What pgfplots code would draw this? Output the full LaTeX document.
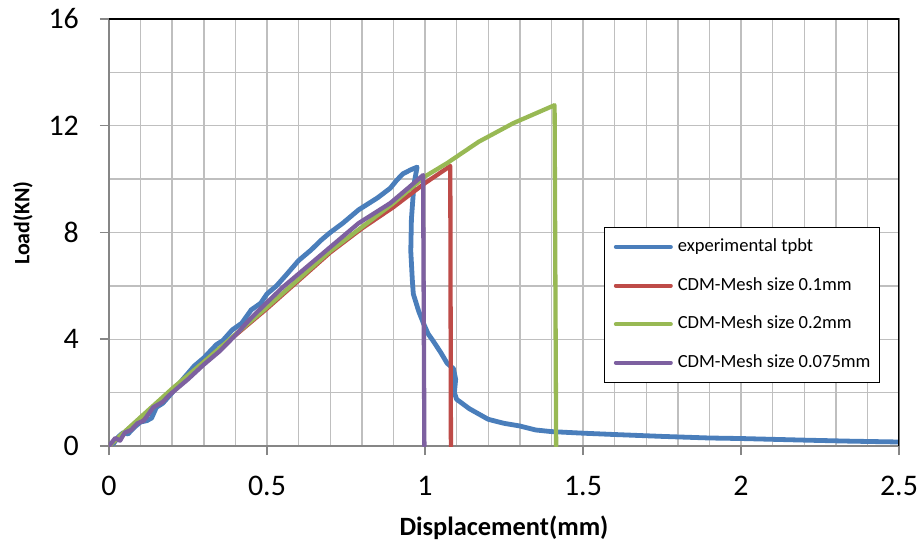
\documentclass[border=0pt]{standalone}
\usepackage{fontspec}
\setmainfont{Carlito}
\usepackage{pgfplots}
\pgfplotsset{compat=1.18}
\definecolor{cblue}{HTML}{4A7EBB}
\definecolor{cred}{HTML}{BE4B48}
\definecolor{cgreen}{HTML}{98B954}
\definecolor{cpurple}{HTML}{7D60A0}
\definecolor{gridc}{HTML}{BFBFBF}
\definecolor{axc}{HTML}{868686}
\begin{document}
\begin{tikzpicture}
\begin{axis}[
  scale only axis, width=790bp, height=427bp,
  xmin=0, xmax=2.5, ymin=0, ymax=16,
  xtick={0,0.5,1,1.5,2,2.5}, ytick={0,4,8,12,16},
  minor x tick num=4, minor y tick num=1,
  grid=both,
  major grid style={gridc, line width=1.4bp},
  minor grid style={gridc, line width=1.4bp},
  axis line style={axc, line width=1.5bp},
  tick style={axc, line width=1.5bp},
  major tick length=9bp, minor tick length=0pt,
  tick align=outside,
  xtick pos=bottom, ytick pos=left,
  /pgf/number format/assume math mode=true,
  xticklabel style={font=\fontsize{30}{31}\selectfont, inner sep=0pt, anchor=north, yshift=-21bp},
  yticklabel style={font=\fontsize{30}{31}\selectfont, inner sep=0pt, anchor=east, xshift=-21bp},
  xticklabels={0,0.5,1,1.5,2,2.5},
  xlabel={Displacement(mm)},
  ylabel={Load(KN)},
  xlabel style={font=\fontsize{26.5}{28}\selectfont\bfseries, at={(axis description cs:0.5,-0.192)}, anchor=center},
  ylabel style={font=\fontsize{22}{24}\selectfont\bfseries, at={(axis description cs:-0.109,0.522)}, anchor=center},
  legend style={at={(axis description cs:0.627,0.513)}, anchor=north west,
    draw=black, line width=1bp, fill=white, inner xsep=9bp, inner ysep=11bp,
    font=\fontsize{18.6}{20}\selectfont,
    nodes={inner sep=0pt, text height=13bp, text depth=4bp},
    row sep=21.6bp},
  legend cell align=left,
  /tikz/every odd column/.append style={column sep=5bp},
  legend image code/.code={\draw[#1, line width=4bp, line cap=round] (0bp,0bp) -- (55bp,0bp);},
  every axis plot/.append style={line join=round, line cap=round},
]
\addplot[cblue, line width=4.8bp] coordinates {
(0,0.05)(0.015,0.1)(0.03,0.35)(0.045,0.5)(0.06,0.45)(0.08,0.7)(0.1,0.9)(0.12,0.95)(0.135,1.05)(0.15,1.45)(0.17,1.6)(0.2,2.0)(0.23,2.45)(0.27,3.0)(0.3,3.3)(0.34,3.8)(0.36,3.95)(0.39,4.35)(0.42,4.6)(0.45,5.1)(0.48,5.35)(0.5,5.7)(0.53,6.0)(0.56,6.4)(0.6,6.95)(0.64,7.35)(0.67,7.7)(0.7,8.0)(0.74,8.35)(0.79,8.85)(0.85,9.3)(0.89,9.66)(0.91,9.95)(0.93,10.2)(0.955,10.35)(0.975,10.45)(0.965,9.8)(0.957,8.5)(0.955,7.3)(0.96,6.2)(0.963,5.7)(0.98,5.05)(0.995,4.6)(1.01,4.2)(1.025,3.95)(1.05,3.5)(1.07,3.1)(1.09,2.9)(1.097,2.5)(1.093,2.0)(1.1,1.75)(1.14,1.4)(1.2,1.0)(1.25,0.85)(1.3,0.75)(1.35,0.6)(1.4,0.54)(1.5,0.48)(1.6,0.43)(1.75,0.36)(1.9,0.3)(2.0,0.28)(2.2,0.22)(2.35,0.18)(2.5,0.15)
};
\addlegendentry{experimental tpbt}
\addplot[cred, line width=4.3bp] coordinates {
(0,0)(0.1,1.05)(0.2,2.1)(0.3,3.15)(0.4,4.15)(0.5,5.15)(0.6,6.2)(0.7,7.25)(0.8,8.15)(0.9,8.95)(1.0,9.85)(1.08,10.49)(1.082,0)
};
\addlegendentry{CDM-Mesh size 0.1mm}
\addplot[cgreen, line width=4.3bp] coordinates {
(0,0)(0.1,1.08)(0.2,2.15)(0.3,3.15)(0.4,4.18)(0.5,5.2)(0.6,6.25)(0.7,7.3)(0.8,8.2)(0.9,9.1)(1.0,10.1)(1.07,10.6)(1.17,11.4)(1.28,12.1)(1.41,12.77)(1.415,0)
};
\addlegendentry{CDM-Mesh size 0.2mm}
\addplot[cpurple, line width=4.3bp] coordinates {
(0,0.0)(0.02,0.3)(0.035,0.2)(0.05,0.5)(0.07,0.6)(0.09,0.85)(0.11,0.95)(0.14,1.45)(0.17,1.65)(0.19,1.9)(0.25,2.5)(0.3,3.05)(0.35,3.55)(0.4,4.15)(0.45,4.8)(0.48,5.15)(0.55,5.95)(0.6,6.45)(0.65,6.95)(0.7,7.45)(0.75,7.95)(0.79,8.35)(0.85,8.8)(0.89,9.1)(0.95,9.7)(0.994,10.15)(0.998,0)
};
\addlegendentry{CDM-Mesh size 0.075mm}
\draw[black, line width=1.5bp] (rel axis cs:0,1) -- (rel axis cs:1,1) -- (rel axis cs:1,0);
\coordinate (O) at (rel axis cs:0,0);
\end{axis}
\pgfresetboundingbox
\path (O) ++(-109bp,-97bp) rectangle ++(922bp,543bp);
\end{tikzpicture}
\end{document}
